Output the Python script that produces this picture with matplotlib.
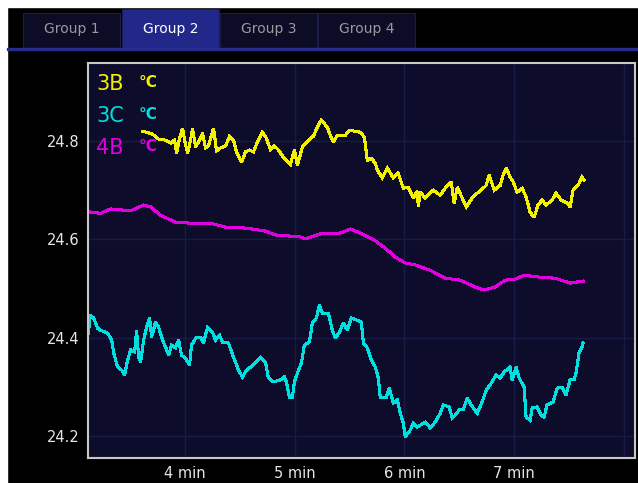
import matplotlib
matplotlib.use('Agg')
import matplotlib.pyplot as plt
from matplotlib.patches import Rectangle

# ---- data (minutes, degC) ----
t_3b = [3.613, 3.649, 3.704, 3.759, 3.822, 3.868, 3.904, 3.923, 3.950, 3.977,
        4.005, 4.023, 4.050, 4.068, 4.096, 4.132, 4.159, 4.187, 4.214, 4.241,
        4.260, 4.287, 4.323, 4.369, 4.405, 4.442, 4.469, 4.515, 4.551, 4.587,
        4.624, 4.660, 4.706, 4.742, 4.779, 4.815, 4.852, 4.897, 4.961, 4.997,
        5.025, 5.070, 5.125, 5.170, 5.216, 5.243, 5.298, 5.334, 5.352, 5.389,
        5.462, 5.498, 5.553, 5.598, 5.635, 5.662, 5.699, 5.735, 5.753, 5.799,
        5.844, 5.899, 5.944, 5.990, 6.035, 6.081, 6.117, 6.127, 6.145, 6.190,
        6.263, 6.327, 6.391, 6.427, 6.454, 6.482, 6.536, 6.564, 6.618, 6.664,
        6.700, 6.746, 6.773, 6.819, 6.874, 6.901, 6.928, 6.964, 6.992, 7.028,
        7.074, 7.110, 7.147, 7.183, 7.219, 7.256, 7.292, 7.347, 7.383, 7.429,
        7.484, 7.511, 7.538, 7.584, 7.620, 7.638]
v_3b = [24.820, 24.818, 24.814, 24.804, 24.802, 24.796, 24.802, 24.776, 24.806, 24.826,
        24.792, 24.776, 24.802, 24.826, 24.788, 24.802, 24.816, 24.786, 24.790, 24.812,
        24.826, 24.780, 24.786, 24.790, 24.810, 24.802, 24.778, 24.757, 24.778, 24.782,
        24.778, 24.798, 24.818, 24.806, 24.782, 24.790, 24.782, 24.767, 24.753, 24.782,
        24.751, 24.788, 24.802, 24.810, 24.833, 24.843, 24.828, 24.806, 24.798, 24.812,
        24.812, 24.822, 24.820, 24.818, 24.808, 24.761, 24.765, 24.755, 24.741, 24.725,
        24.745, 24.725, 24.735, 24.704, 24.706, 24.684, 24.698, 24.668, 24.696, 24.684,
        24.700, 24.690, 24.710, 24.717, 24.674, 24.706, 24.680, 24.666, 24.684, 24.694,
        24.700, 24.710, 24.731, 24.700, 24.710, 24.731, 24.745, 24.727, 24.717, 24.696,
        24.704, 24.686, 24.655, 24.645, 24.670, 24.680, 24.670, 24.680, 24.694, 24.680,
        24.674, 24.666, 24.700, 24.710, 24.727, 24.721]

t_3c = [3.121, 3.130, 3.167, 3.203, 3.230, 3.294, 3.331, 3.349, 3.385, 3.422,
        3.449, 3.476, 3.504, 3.540, 3.558, 3.577, 3.595, 3.622, 3.649, 3.677,
        3.695, 3.731, 3.759, 3.795, 3.822, 3.850, 3.877, 3.913, 3.941, 3.968,
        4.005, 4.041, 4.059, 4.105, 4.141, 4.168, 4.205, 4.250, 4.278, 4.314,
        4.342, 4.396, 4.442, 4.487, 4.524, 4.560, 4.597, 4.642, 4.688, 4.733,
        4.760, 4.806, 4.870, 4.906, 4.924, 4.952, 4.979, 4.997, 5.025, 5.061,
        5.088, 5.134, 5.161, 5.198, 5.225, 5.252, 5.307, 5.343, 5.371, 5.407,
        5.444, 5.480, 5.516, 5.562, 5.607, 5.626, 5.662, 5.699, 5.735, 5.762,
        5.780, 5.835, 5.862, 5.899, 5.935, 5.963, 5.990, 6.008, 6.054, 6.081,
        6.117, 6.145, 6.190, 6.236, 6.281, 6.327, 6.354, 6.409, 6.436, 6.464,
        6.500, 6.536, 6.573, 6.609, 6.664, 6.709, 6.746, 6.800, 6.837, 6.873,
        6.910, 6.964, 6.983, 7.019, 7.046, 7.092, 7.110, 7.147, 7.165, 7.210,
        7.247, 7.274, 7.301, 7.356, 7.392, 7.438, 7.474, 7.511, 7.547, 7.565,
        7.593, 7.620, 7.629]
v_3c = [24.409, 24.446, 24.440, 24.419, 24.415, 24.409, 24.395, 24.369, 24.340, 24.334,
        24.324, 24.354, 24.375, 24.371, 24.415, 24.360, 24.350, 24.395, 24.421, 24.440,
        24.401, 24.432, 24.421, 24.395, 24.381, 24.364, 24.385, 24.379, 24.395, 24.364,
        24.358, 24.344, 24.385, 24.401, 24.401, 24.389, 24.421, 24.411, 24.395, 24.405,
        24.391, 24.389, 24.360, 24.334, 24.320, 24.334, 24.340, 24.350, 24.360, 24.350,
        24.318, 24.310, 24.314, 24.320, 24.310, 24.279, 24.279, 24.310, 24.328, 24.348,
        24.385, 24.391, 24.430, 24.440, 24.466, 24.450, 24.450, 24.415, 24.399, 24.411,
        24.430, 24.415, 24.440, 24.436, 24.432, 24.389, 24.379, 24.354, 24.340, 24.318,
        24.279, 24.279, 24.297, 24.267, 24.273, 24.246, 24.226, 24.198, 24.212, 24.226,
        24.218, 24.222, 24.228, 24.216, 24.228, 24.246, 24.263, 24.259, 24.236, 24.242,
        24.253, 24.253, 24.277, 24.263, 24.246, 24.269, 24.293, 24.310, 24.324, 24.318,
        24.330, 24.340, 24.314, 24.340, 24.318, 24.299, 24.238, 24.232, 24.257, 24.259,
        24.242, 24.238, 24.263, 24.269, 24.297, 24.299, 24.283, 24.314, 24.314, 24.328,
        24.369, 24.381, 24.389]

t_4b = [3.121, 3.230, 3.321, 3.504, 3.622, 3.686, 3.776, 3.913, 4.050, 4.232,
        4.369, 4.551, 4.733, 4.824, 5.052, 5.097, 5.234, 5.416, 5.507, 5.598,
        5.735, 5.826, 5.917, 6.008, 6.099, 6.236, 6.372, 6.509, 6.646, 6.728,
        6.828, 6.919, 7.010, 7.092, 7.238, 7.374, 7.511, 7.629]
v_4b = [24.656, 24.653, 24.662, 24.658, 24.670, 24.666, 24.649, 24.635, 24.633, 24.633,
        24.625, 24.623, 24.617, 24.609, 24.605, 24.601, 24.611, 24.613, 24.621, 24.613,
        24.597, 24.582, 24.564, 24.552, 24.548, 24.537, 24.521, 24.517, 24.503, 24.497,
        24.503, 24.517, 24.519, 24.527, 24.523, 24.521, 24.511, 24.515]

series = [('3B', t_3b, v_3b, '#f2f200'),
          ('3C', t_3c, v_3c, '#00e0e0'),
          ('4B', t_4b, v_4b, '#e000e0')]

x_ticks = [4, 5, 6, 7, 8]
x_labels = ['4 min', '5 min', '6 min', '7 min', '']
y_ticks = [24.2, 24.4, 24.6, 24.8]
tabs = ['Group 1', 'Group 2', 'Group 3', 'Group 4']
active_tab = 1

W, H = 638, 483
fig = plt.figure(figsize=(W / 100, H / 100), dpi=100)
fig.patch.set_facecolor('black')


def px(x, y, w, h):
    # pixel box (top-left origin) -> figure fraction rect
    return (x / W, 1 - (y + h) / H, w / W, h / H)


# white frame strips at top/left of the screenshot
fig.add_artist(Rectangle((0, 0), 7 / W, 1, transform=fig.transFigure, color='white', zorder=0))
fig.add_artist(Rectangle((0, 1 - 7 / H), 1, 7 / H, transform=fig.transFigure, color='white', zorder=0))

# tab bar
tab_x = [23, 122, 220, 318]
for i, name in enumerate(tabs):
    top = 9 if i == active_tab else 13
    fc = '#22288a' if i == active_tab else '#0c0c26'
    r = px(tab_x[i], top, 97, 48 - top)
    fig.add_artist(Rectangle(r[:2], r[2], r[3], transform=fig.transFigure,
                             facecolor=fc, edgecolor='#1c1c48', lw=0.8))
    fig.text((tab_x[i] + 48.5) / W, 1 - 29 / H, name, ha='center', va='center',
             fontsize=10, color='white' if i == active_tab else '#9a9a9a')
r = px(7, 47.5, W - 7, 2.5)
fig.add_artist(Rectangle(r[:2], r[2], r[3], transform=fig.transFigure, color='#262c8c'))

# plot area
ax = fig.add_axes(px(88, 63, 547, 395))
ax.set_facecolor('#0d0d2b')
for name, t, v, c in series:
    ax.plot(t, v, color=c, lw=1.5, antialiased=False, solid_joinstyle='miter')

ax.set_xlim(3.115, 8.103)
ax.set_ylim(24.155, 24.959)
ax.set_xticks(x_ticks)
ax.set_xticklabels(x_labels)
ax.set_yticks(y_ticks)
ax.set_yticklabels([f'{y:.1f}' for y in y_ticks])
ax.tick_params(length=0, colors='#e6e6e6', labelsize=10.5, pad=6)
ax.grid(True, color='#1a1a48', lw=1.0)
ax.set_axisbelow(True)
for s in ax.spines.values():
    s.set_color('#c8c8c8')
    s.set_linewidth(1.5)

# legend-like labels in the corner
for i, (name, t, v, c) in enumerate(series):
    yy = 1 - (21 + 32 * i) / 395
    ax.text(8 / 547, yy, name, transform=ax.transAxes, color=c, fontsize=15,
            va='center', ha='left')
    ax.text(51 / 547, yy + 0.005, '°C', transform=ax.transAxes, color=c, fontsize=11,
            va='center', ha='left', fontweight='bold')

fig.savefig('out.png', dpi=100, facecolor=fig.get_facecolor())
